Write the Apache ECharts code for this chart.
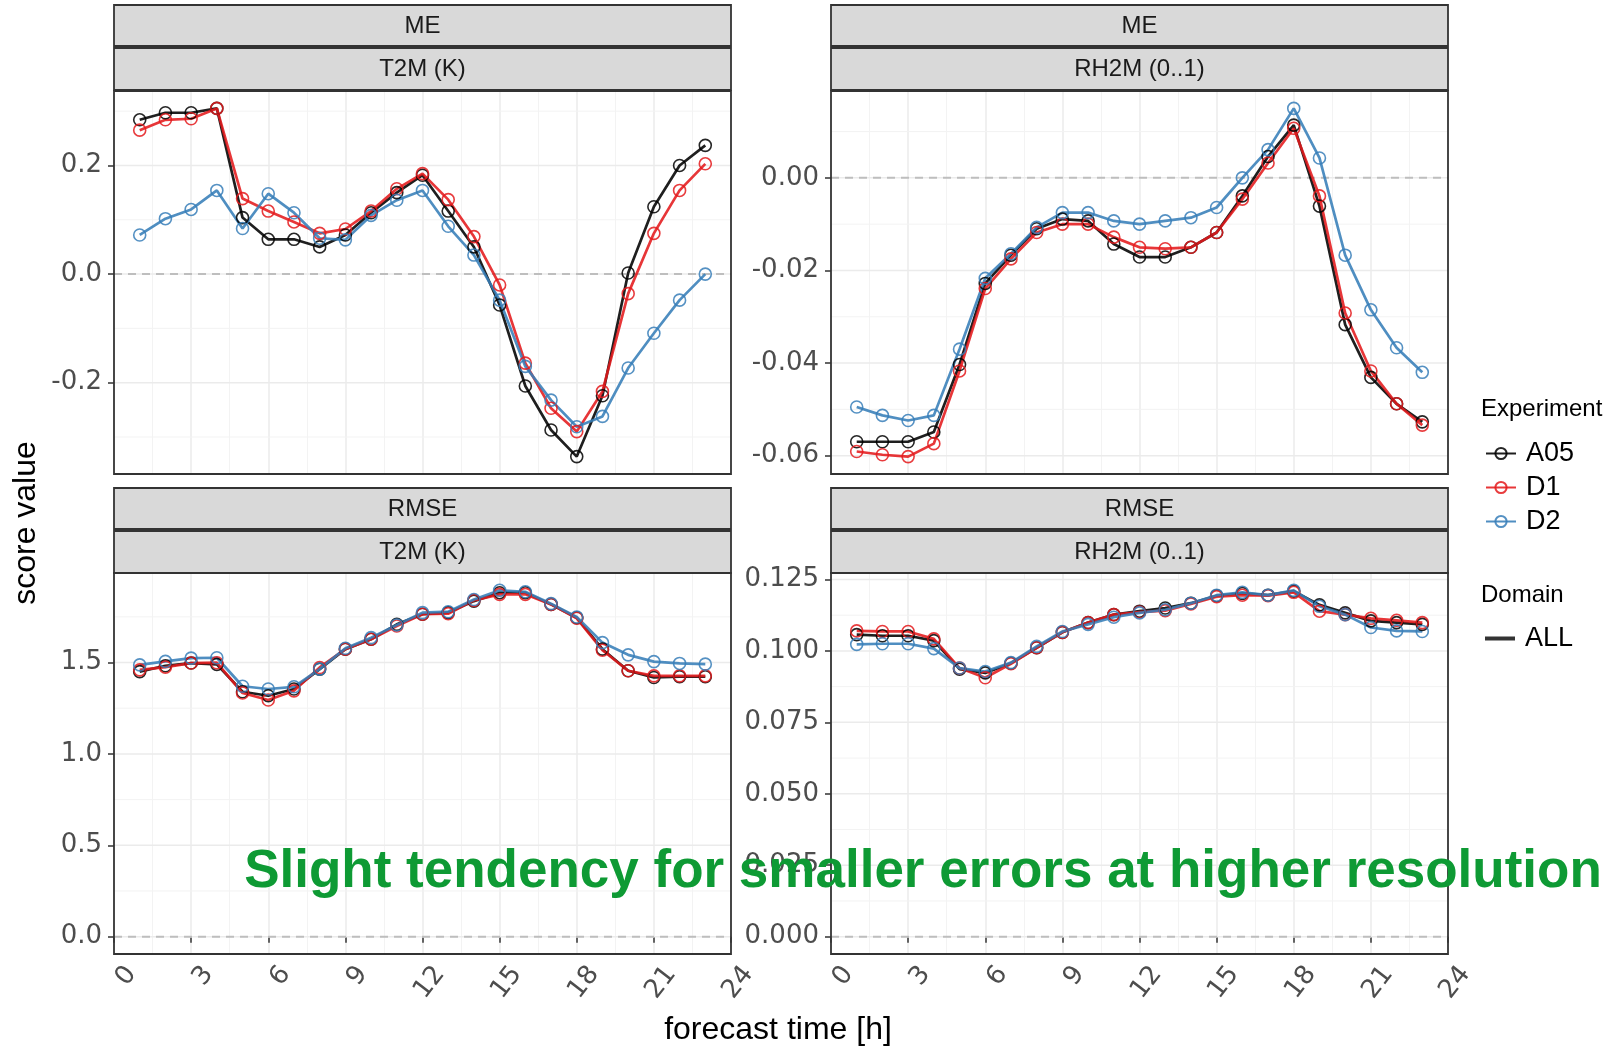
<!DOCTYPE html>
<html><head><meta charset="utf-8">
<script src="https://cdn.jsdelivr.net/npm/echarts@6/dist/echarts.min.js"></script>
<style>html,body{margin:0;padding:0;background:#fff}#c{width:1616px;height:1047px}</style>
</head><body><div id="c"></div><script>
// ---------------- data ----------------
const HOURS = [1,2,3,4,5,6,7,8,9,10,11,12,13,14,15,16,17,18,19,20,21,22,23];
const EXPERIMENTS = ['A05','D1','D2'];

const ME_T2M_A05 = [0.284,0.297,0.297,0.305,0.104,0.064,0.064,0.050,0.072,0.113,0.150,0.182,0.116,0.050,-0.057,-0.206,-0.287,-0.336,-0.224,0.002,0.124,0.200,0.237];
const ME_T2M_D1  = [0.265,0.284,0.286,0.305,0.139,0.116,0.096,0.075,0.083,0.116,0.157,0.185,0.137,0.069,-0.020,-0.164,-0.247,-0.290,-0.216,-0.036,0.075,0.154,0.203];
const ME_T2M_D2  = [0.072,0.102,0.119,0.154,0.084,0.148,0.113,0.066,0.063,0.108,0.136,0.154,0.088,0.035,-0.048,-0.170,-0.232,-0.281,-0.262,-0.173,-0.109,-0.048,0.000];

const ME_RH2M_A05 = [-0.0570,-0.0570,-0.0570,-0.0549,-0.0403,-0.0228,-0.0167,-0.0110,-0.0089,-0.0093,-0.0143,-0.0171,-0.0171,-0.0150,-0.0118,-0.0039,0.0046,0.0114,-0.0061,-0.0317,-0.0431,-0.0488,-0.0527];
const ME_RH2M_D1  = [-0.0591,-0.0598,-0.0602,-0.0574,-0.0417,-0.0239,-0.0175,-0.0118,-0.0100,-0.0100,-0.0128,-0.0150,-0.0153,-0.0150,-0.0118,-0.0046,0.0032,0.0107,-0.0039,-0.0292,-0.0417,-0.0488,-0.0534];
const ME_RH2M_D2  = [-0.0495,-0.0513,-0.0524,-0.0513,-0.0370,-0.0217,-0.0164,-0.0107,-0.0075,-0.0075,-0.0093,-0.0100,-0.0093,-0.0086,-0.0064,0.0000,0.0061,0.0150,0.0043,-0.0167,-0.0285,-0.0367,-0.0420];

const RMSE_T2M_A05 = [1.450,1.482,1.497,1.490,1.340,1.318,1.355,1.464,1.573,1.627,1.709,1.764,1.773,1.836,1.882,1.882,1.818,1.745,1.573,1.455,1.418,1.422,1.422];
const RMSE_T2M_D1  = [1.460,1.475,1.497,1.499,1.333,1.295,1.345,1.473,1.573,1.627,1.700,1.764,1.767,1.840,1.873,1.873,1.818,1.742,1.567,1.455,1.427,1.427,1.427];
const RMSE_T2M_D2  = [1.487,1.506,1.524,1.526,1.370,1.355,1.367,1.464,1.578,1.636,1.705,1.773,1.778,1.845,1.895,1.887,1.822,1.749,1.609,1.542,1.505,1.495,1.491];

const RMSE_RH2M_A05 = [0.1057,0.1053,0.1053,0.1036,0.0936,0.0923,0.0957,0.1011,0.1065,0.1099,0.1127,0.1139,0.1150,0.1167,0.1193,0.1201,0.1195,0.1209,0.1161,0.1133,0.1105,0.1099,0.1093];
const RMSE_RH2M_D1  = [0.1070,0.1068,0.1068,0.1042,0.0940,0.0906,0.0955,0.1011,0.1065,0.1099,0.1127,0.1136,0.1141,0.1164,0.1190,0.1195,0.1193,0.1205,0.1139,0.1127,0.1114,0.1107,0.1099];
const RMSE_RH2M_D2  = [0.1023,0.1025,0.1025,0.1008,0.0940,0.0928,0.0959,0.1016,0.1068,0.1093,0.1118,0.1133,0.1144,0.1167,0.1195,0.1205,0.1195,0.1212,0.1156,0.1127,0.1082,0.1070,0.1068];

const TICKS_ME_T2M = [-0.2, 0.0, 0.2];
const TICKS_ME_RH2M = [-0.06, -0.04, -0.02, 0.00];
const TICKS_RMSE_T2M = [0.0, 0.5, 1.0, 1.5];
const TICKS_RMSE_RH2M = [0.000, 0.025, 0.050, 0.075, 0.100, 0.125];
const X_MIN = 0, X_MAX = 24, X_STEP = 3;
const REF_LINE = 0;

// ---------------- styling / layout ----------------
const COLORS = {A05:'#000000', D1:'#E41A1C', D2:'#377EB8'};
const PANELS = [
  {score:'ME',   param:'T2M (K)',     data:[ME_T2M_A05,ME_T2M_D1,ME_T2M_D2],       ticks:TICKS_ME_T2M,   dec:1, left:114, top:91,  h:383, stripTop:5,   showX:false},
  {score:'ME',   param:'RH2M (0..1)', data:[ME_RH2M_A05,ME_RH2M_D1,ME_RH2M_D2],    ticks:TICKS_ME_RH2M,  dec:2, left:831, top:91,  h:383, stripTop:5,   showX:false},
  {score:'RMSE', param:'T2M (K)',     data:[RMSE_T2M_A05,RMSE_T2M_D1,RMSE_T2M_D2], ticks:TICKS_RMSE_T2M, dec:1, left:114, top:573, h:381, stripTop:488, showX:true},
  {score:'RMSE', param:'RH2M (0..1)', data:[RMSE_RH2M_A05,RMSE_RH2M_D1,RMSE_RH2M_D2], ticks:TICKS_RMSE_RH2M, dec:3, left:831, top:573, h:381, stripTop:488, showX:true}
];
const PW = 617;
const LABEL_FONT = 'DejaVu Sans';
const TEXT_FONT = 'Liberation Sans';

function limits(arrs){
  let lo = REF_LINE, hi = REF_LINE;
  arrs.forEach(a => a.forEach(v => { if (v < lo) lo = v; if (v > hi) hi = v; }));
  const pad = (hi - lo) * 0.05;
  return [lo - pad, hi + pad];
}
function minors(ticks, lo, hi){
  const step = ticks[1] - ticks[0];
  const out = [];
  for (let i = -1; i < ticks.length; i++) {
    const v = (i < 0 ? ticks[0] - step : ticks[i]) + step / 2;
    if (v > lo && v < hi) out.push(v);
  }
  return out;
}

const grids = [], xAxes = [], yAxes = [], series = [], graphics = [];
PANELS.forEach((p, i) => {
  const [lo, hi] = limits(p.data);
  grids.push({left:p.left, top:p.top, width:PW, height:p.h, show:true, backgroundColor:'#ffffff',
    borderColor:'#333333', borderWidth:0, containLabel:false, outerBoundsMode:'none'});
  xAxes.push({type:'value', gridIndex:i, min:X_MIN, max:X_MAX, interval:X_STEP,
    axisLine:{show:false},
    axisTick:{show:p.showX, length:6, lineStyle:{color:'#333333', width:1.5}},
    axisLabel:{show:p.showX, rotate:52, align:'right', verticalAlign:'top', margin:2, padding:[9,0,0,0],
      fontSize:26, fontFamily:LABEL_FONT, color:'#4D4D4D', showMinLabel:true, showMaxLabel:true},
    splitLine:{show:true, showMinLine:false, showMaxLine:false, lineStyle:{color:'#EBEBEB', width:1.5}},
    minorTick:{show:false, splitNumber:2},
    minorSplitLine:{show:true, lineStyle:{color:'#F3F3F3', width:1}}
  });
  yAxes.push({type:'value', gridIndex:i, min:lo, max:hi,
    axisLine:{show:false}, splitLine:{show:false},
    axisTick:{show:true, customValues:p.ticks, length:6, lineStyle:{color:'#333333', width:1.5}},
    axisLabel:{customValues:p.ticks, formatter:v => Number(v).toFixed(p.dec), fontSize:26,
      fontFamily:LABEL_FONT, color:'#4D4D4D', margin:12}
  });
  // horizontal grid lines (major + minor) drawn through the axes
  minors(p.ticks, lo, hi).forEach(v => series.push({type:'line', xAxisIndex:i, yAxisIndex:i, silent:true,
    animation:false, symbol:'none', z:1, data:[[X_MIN, v],[X_MAX, v]], lineStyle:{color:'#F3F3F3', width:1}}));
  p.ticks.forEach(v => series.push({type:'line', xAxisIndex:i, yAxisIndex:i, silent:true,
    animation:false, symbol:'none', z:1, data:[[X_MIN, v],[X_MAX, v]], lineStyle:{color:'#EBEBEB', width:1.5}}));
  // dashed zero reference
  series.push({type:'line', xAxisIndex:i, yAxisIndex:i, silent:true, animation:false, symbol:'none', z:2,
    data:[[X_MIN, REF_LINE],[X_MAX, REF_LINE]], lineStyle:{color:'#BEBEBE', width:2, type:[8,6]}});
  // experiment lines
  EXPERIMENTS.forEach((name, k) => {
    series.push({type:'line', name, xAxisIndex:i, yAxisIndex:i, silent:true, animation:false, z:3,
      data: HOURS.map((h, j) => [h, p.data[k][j]]),
      symbol:'circle', symbolSize:12, showSymbol:true,
      itemStyle:{color:'rgba(255,255,255,0)', borderColor:COLORS[name], borderWidth:1.6, opacity:0.85},
      lineStyle:{color:COLORS[name], width:2.7, opacity:0.88}
    });
  });
  // panel border on top
  graphics.push({type:'rect', shape:{x:p.left, y:p.top, width:PW, height:p.h}, style:{fill:null, stroke:'#333333', lineWidth:1.8}, z:50, silent:true});
  // strips
  const st = p.stripTop;
  graphics.push({type:'rect', shape:{x:p.left, y:st, width:PW, height:41}, style:{fill:'#D9D9D9', stroke:'#333333', lineWidth:1.8}, z:10});
  graphics.push({type:'rect', shape:{x:p.left, y:st+43, width:PW, height:42}, style:{fill:'#D9D9D9', stroke:'#333333', lineWidth:1.8}, z:10});
  graphics.push({type:'text', x:p.left+PW/2, y:st+21, style:{text:p.score, fontSize:24, fontFamily:TEXT_FONT, fill:'#1A1A1A', align:'center', verticalAlign:'middle'}, z:11});
  graphics.push({type:'text', x:p.left+PW/2, y:st+64, style:{text:p.param, fontSize:24, fontFamily:TEXT_FONT, fill:'#1A1A1A', align:'center', verticalAlign:'middle'}, z:11});
});

// Domain dummy series for legend
series.push({type:'line', name:'ALL', xAxisIndex:0, yAxisIndex:0, data:[], silent:true,
  itemStyle:{color:'#333333'}, lineStyle:{color:'#333333', width:3}});

graphics.push({type:'text', x:26, y:523, rotation:Math.PI/2, style:{text:'score value', fontSize:32, fontFamily:TEXT_FONT, fill:'#000', align:'center', verticalAlign:'middle'}});
graphics.push({type:'text', x:778, y:1030, style:{text:'forecast time [h]', fontSize:32, fontFamily:TEXT_FONT, fill:'#000', align:'center', verticalAlign:'middle'}});
graphics.push({type:'text', x:1481, y:409, style:{text:'Experiment', fontSize:24, fontFamily:TEXT_FONT, fill:'#000', align:'left', verticalAlign:'middle'}});
graphics.push({type:'text', x:1481, y:595, style:{text:'Domain', fontSize:24, fontFamily:TEXT_FONT, fill:'#000', align:'left', verticalAlign:'middle'}});
graphics.push({type:'text', x:923, y:872, z:100, style:{text:'Slight tendency for smaller errors at higher resolution', fontSize:53, fontWeight:'bold', fontFamily:TEXT_FONT, fill:'#0E9A34', align:'center', verticalAlign:'middle'}});

const option = {
  animation:false,
  backgroundColor:'#ffffff',
  grid:grids, xAxis:xAxes, yAxis:yAxes, series,
  legend:[
    {data:EXPERIMENTS, orient:'vertical', left:1480, top:435, itemWidth:30, itemHeight:14, itemGap:7, selectedMode:false,
      textStyle:{fontSize:27, fontFamily:TEXT_FONT, color:'#000', padding:[0,0,0,5]}},
    {data:[{name:'ALL', icon:'rect'}], orient:'vertical', left:1480, top:620, itemWidth:30, itemHeight:4, selectedMode:false,
      itemStyle:{color:'#333333'}, textStyle:{fontSize:27, fontFamily:TEXT_FONT, color:'#000', padding:[0,0,0,5]}}
  ],
  graphic:graphics
};
const chart = echarts.init(document.getElementById('c'), null, {renderer:'canvas'});
chart.setOption(option);
</script></body></html>
